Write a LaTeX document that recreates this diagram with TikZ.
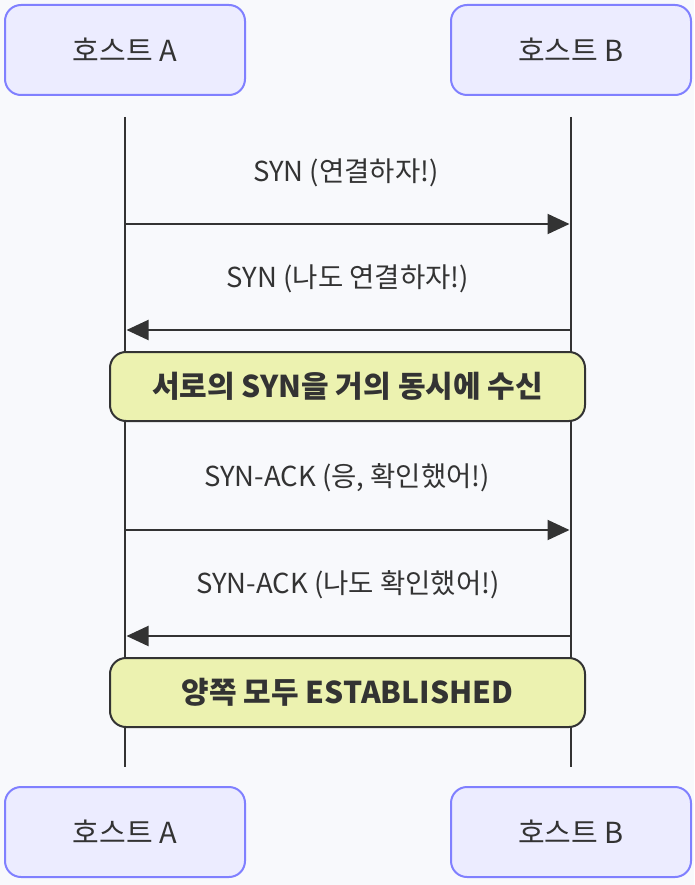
\documentclass[tikz,border=0pt]{standalone}
\usepackage{fontspec}
\setmainfont{Noto Sans CJK KR}
\usetikzlibrary{arrows.meta}
\definecolor{bg}{HTML}{F8F9FC}
\definecolor{actorfill}{HTML}{ECECFF}
\definecolor{actorborder}{HTML}{8080FF}
\definecolor{notefill}{HTML}{ECF2B0}
\definecolor{ink}{HTML}{333333}
\tikzset{
  actor/.style={draw=actorborder, fill=actorfill, line width=2pt, rounded corners=16pt,
    minimum width=240pt, minimum height=90pt, text=ink, font=\fontsize{29}{34}\selectfont},
  lifeline/.style={draw=ink, line width=1.5pt},
  msg/.style={draw=ink, line width=2pt, -{Triangle[length=22pt,width=20pt]}, shorten >=1.5pt},
  msglabel/.style={text=ink, font=\fontsize{27.5}{32}\selectfont},
  notebox/.style={draw=ink, fill=notefill, line width=2pt, rounded corners=16pt,
    minimum width=475pt, minimum height=69pt, text=ink, font=\fontsize{30}{35}\selectfont\bfseries}
}
\begin{document}
\begin{tikzpicture}[x=1pt,y=-1pt]
\fill[bg] (0,0) rectangle (694,885);
\useasboundingbox (0,0) rectangle (694,885);
% lifelines
\coordinate (aT) at (125,117);
\coordinate (aB) at (125,767);
\coordinate (bT) at (571,117);
\coordinate (bB) at (571,767);
\draw[lifeline] (aT) -- (aB);
\draw[lifeline] (bT) -- (bB);
% actors
\node[actor] (a1) at (125,50) {호스트 A};
\node[actor] (b1) at (571,50) {호스트 B};
\node[actor] (a2) at (125,832) {호스트 A};
\node[actor] (b2) at (571,832) {호스트 B};
% messages
\coordinate (m1a) at (125,224); \coordinate (m1b) at (571,224);
\coordinate (m2a) at (571,330); \coordinate (m2b) at (125,330);
\coordinate (m3a) at (125,530); \coordinate (m3b) at (571,530);
\coordinate (m4a) at (571,636); \coordinate (m4b) at (125,636);
\draw[msg] (m1a) -- (m1b);
\draw[msg] (m2a) -- (m2b);
\draw[msg] (m3a) -- (m3b);
\draw[msg] (m4a) -- (m4b);
\node[msglabel] (l1) at (346,173) {SYN (연결하자!)};
\node[msglabel] (l2) at (348,279) {SYN (나도 연결하자!)};
\node[msglabel] (l3) at (347,478) {SYN-ACK (응, 확인했어!)};
\node[msglabel] (l4) at (348,585) {SYN-ACK (나도 확인했어!)};
% notes
\node[notebox] (n1) at (347.5,386.5) {서로의 SYN을 거의 동시에 수신};
\node[notebox] (n2) at (347.5,692.5) {양쪽 모두 ESTABLISHED};
\end{tikzpicture}
\end{document}
